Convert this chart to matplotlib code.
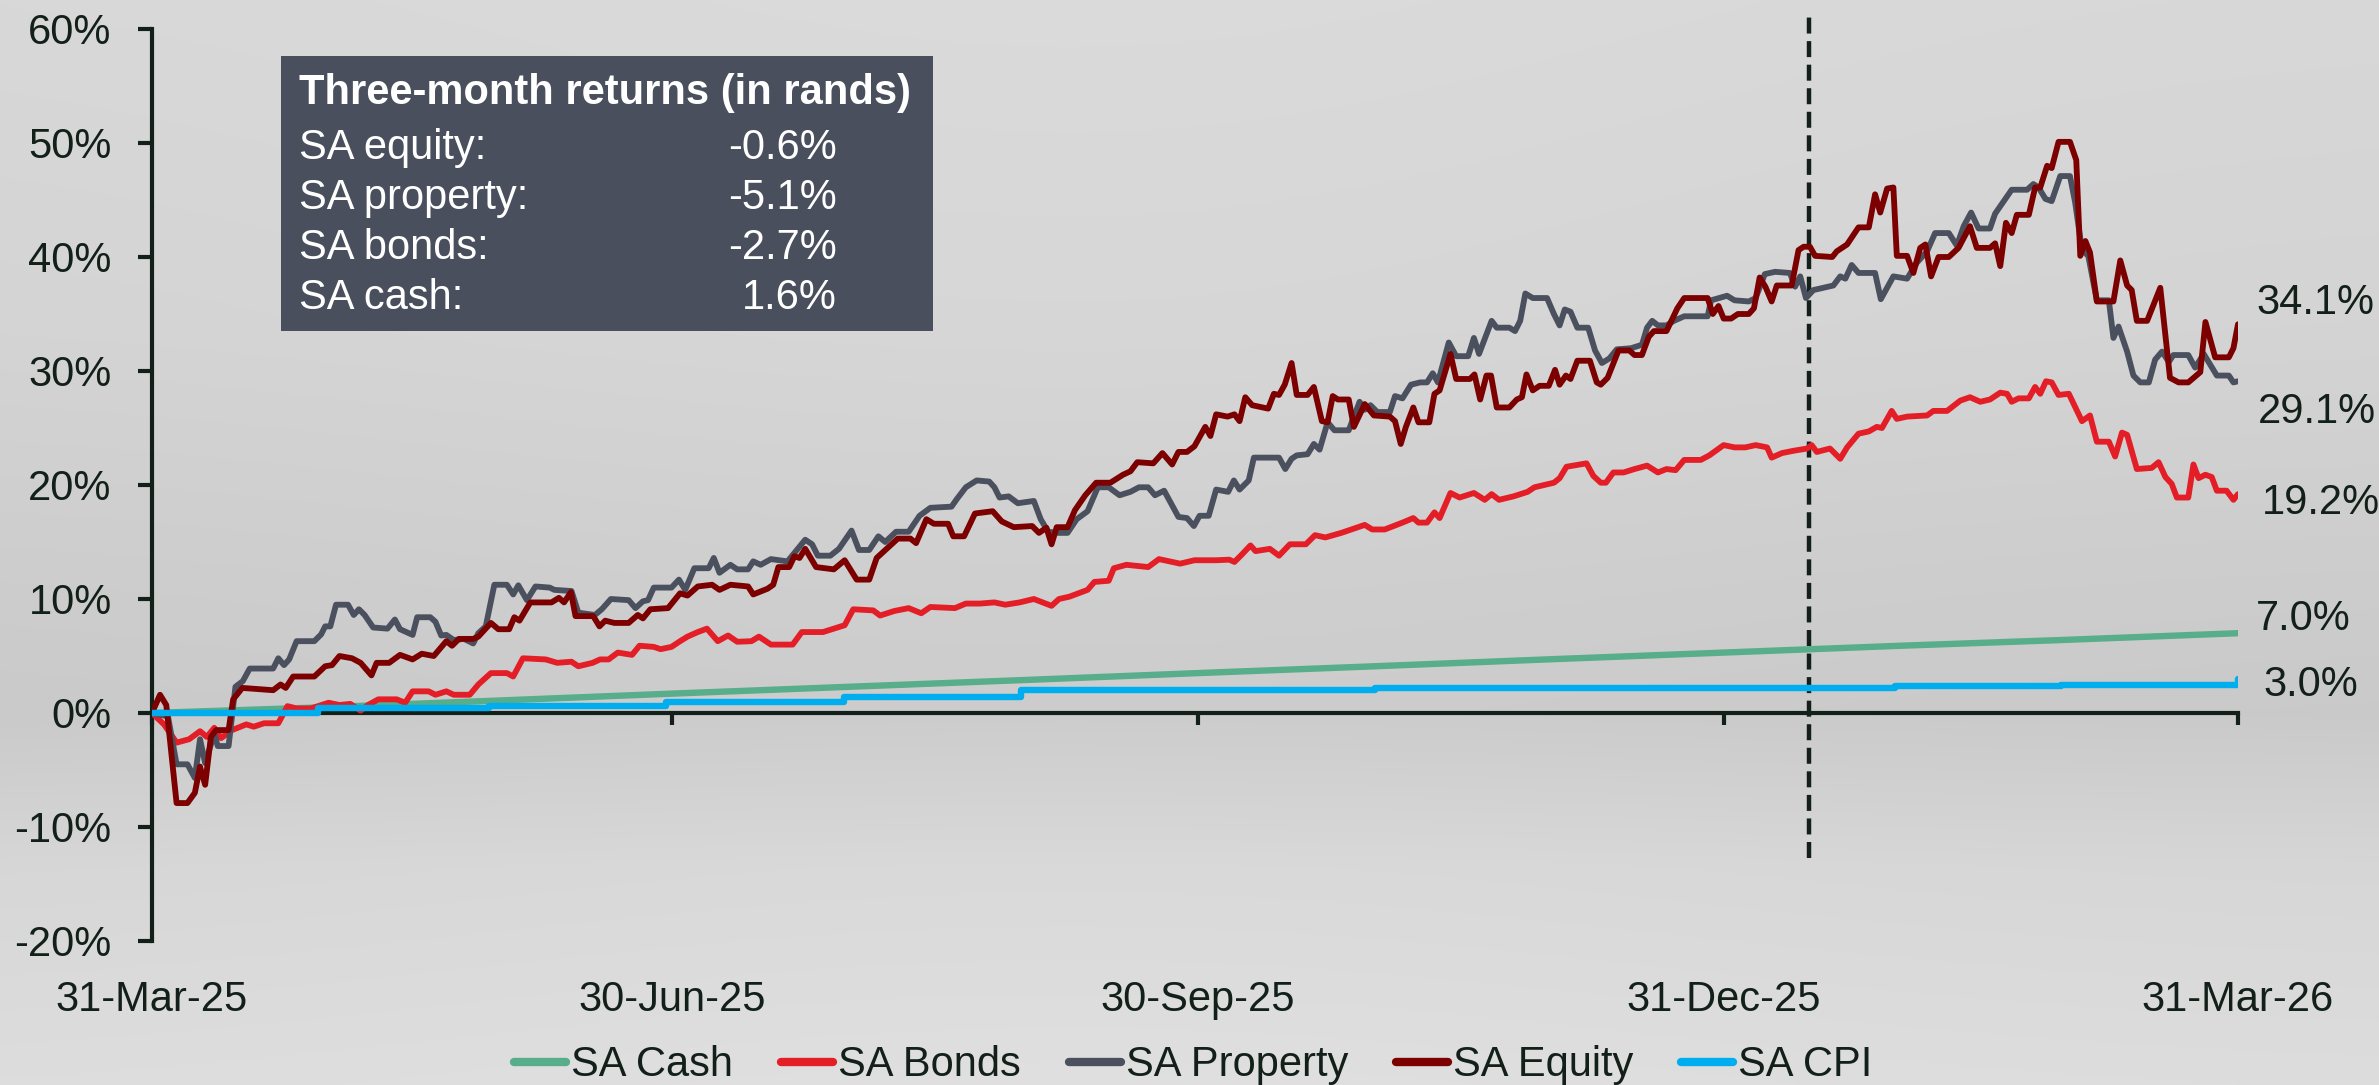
import numpy as np
import pandas as pd
import matplotlib
matplotlib.use("Agg")
import matplotlib.pyplot as plt
from matplotlib.patches import Rectangle

plt.rcParams['font.family'] = ['Liberation Sans', 'DejaVu Sans']

START = pd.Timestamp('2025-03-31')

# ---------------- data (days after 31-Mar-25, cumulative return %) ----------------
eq_days = [0,1.4,2.5,4.3,6.2,7.5,8.4,9.3,10.3,11.2,13.4,14.2,15.8,21.2,22.5,23.4,24.7,28.4,30.3,31.5,32.8,35,36.5,38.4,39.3,41.5,43.4,45.6,47.2,49.3,51.5,52.5,53.7,56.2,57.1,59.3,60.6,62.5,63.4,64.3,66.2,69.9,71.2,72.1,73.3,74.1,77.2,78.3,79.3,80.9,83.4,85,85.9,87.2,90.3,92.4,93.7,95.5,98,99.3,101.2,104.3,105.2,107.7,108.7,109.6,111.5,112.4,113.3,114.3,116.2,119.3,121.2,123.3,125.5,126.8,130.5,132.7,133.7,135.5,136.8,139.3,140.2,142.1,144,147.1,148.7,150.8,154,155.2,156.5,157.4,158.3,160.2,161.5,163.3,165.2,167.7,169.9,171.2,172.4,175.2,176.8,178.5,179.6,181.1,182.4,184.3,185.2,186.2,188.2,189.4,190.3,191.3,192.5,195.3,196.3,197.2,198.2,199.4,200.3,202.2,203.3,204.7,205.7,206.6,207.5,209.4,210.3,212.2,213.8,216.6,217.5,218.5,219.4,220.7,221.6,223.5,224.4,225.3,227.2,228.2,230.6,231.4,232.4,233.5,234.3,235.3,237.5,238.8,239.7,240.5,241.6,242.8,244.4,245.5,246.3,247.4,248.2,249.4,251.6,252.8,253.5,254.7,256.6,258.5,259.4,260.7,261.9,262.8,265,266.9,268.1,272.2,273.1,274.1,275,276.3,277.5,279.4,280.3,281.3,282.3,283.4,284.3,286.9,288.1,289,290.1,291,294,294.8,296.6,298.6,300.4,301.5,302.4,303.6,304.7,305.3,307.1,308.2,309.4,310.3,311.3,312.6,314.4,316.1,318.1,319.3,321.6,322.5,323.4,324.4,325.4,326.3,328.4,329.5,330.4,331.6,332.4,333.6,335.6,336.7,337.4,338.3,339.1,340.3,343.2,344.4,345.6,346.4,347.3,349.1,351.4,353.1,354.6,356.3,358.4,359.3,361,363.4,364.2,365]
eq_vals = [0,1.6,0.7,-7.9,-7.9,-7.0,-4.7,-6.3,-2.1,-1.5,-1.5,1.2,2.2,2.0,2.5,2.2,3.2,3.2,4.1,4.2,5.0,4.8,4.4,3.3,4.4,4.4,5.1,4.7,5.2,5.0,6.3,5.9,6.5,6.5,6.7,7.9,7.35,7.35,8.4,8.1,9.7,9.7,10.1,9.7,10.6,8.5,8.5,7.6,8.1,7.9,7.9,8.6,8.3,9.1,9.2,10.5,10.3,11.1,11.25,10.8,11.25,11.1,10.4,10.9,11.25,12.8,12.8,13.75,13.6,14.4,12.8,12.6,13.4,11.7,11.7,13.6,15.3,15.3,14.9,17.0,16.6,16.6,15.5,15.5,17.5,17.7,16.8,16.3,16.4,15.8,16.25,14.8,16.3,16.3,17.8,19.1,20.2,20.2,20.9,21.2,22.0,21.9,22.8,21.8,22.9,22.9,23.4,25.1,24.3,26.2,26.0,26.2,25.6,27.7,27.0,26.7,28.0,27.9,28.8,30.7,27.9,27.9,28.6,25.6,25.5,27.8,27.5,27.5,25.1,27.1,26.1,26.0,25.6,23.6,25.1,26.8,25.5,25.5,28.0,28.3,31.5,29.3,29.3,29.7,27.5,29.6,29.6,26.8,26.8,27.5,27.7,29.7,28.3,28.7,28.7,30.1,28.8,29.6,29.3,30.9,30.9,29.0,28.8,29.4,31.8,31.8,31.4,31.4,33.0,33.5,33.5,35.5,36.4,36.4,35.0,35.7,34.6,34.6,35.0,35.0,35.5,38.2,37.4,36.1,37.5,37.5,40.6,40.9,40.9,40.1,40.0,40.5,41.1,42.6,42.6,45.5,43.9,46.0,46.1,40.1,40.1,38.6,40.8,41.1,38.3,40.0,40.0,40.8,42.7,40.8,40.8,41.2,39.2,43.0,42.1,43.7,43.7,46.1,46.1,48.0,47.8,50.1,50.1,48.5,40.1,41.4,40.4,36.1,36.1,39.7,37.5,37.1,34.4,34.4,37.3,29.4,29.0,29.0,29.9,34.3,31.2,31.2,32.0,34.1]

pr_days = [0,2.8,4.3,6.2,7.5,8.4,9.3,10.9,11.5,13.4,14.6,15.9,17.1,21.2,22.1,23.1,24.0,25.3,28.4,29.6,30.3,31.2,32.2,34.3,35.3,36.2,37.2,38.7,41.2,42.5,43.4,45.6,46.4,48.7,49.6,50.6,51.5,52.8,54.6,56.2,57.1,58.4,59.9,62.1,63.2,64.1,65.6,67.1,69.6,70.4,73.4,74.6,77.5,78.7,80.3,83.4,84.6,85.9,86.8,87.8,90.9,92.2,93.3,94.9,97.4,98.3,99.3,101.2,102.4,104.3,105.2,106.5,108.3,111.2,114.3,115.5,116.5,118.7,120.2,122.4,123.7,125.5,127.1,128.3,130.2,132.4,134.3,136.2,139.9,140.8,142.4,144.3,146.5,147.4,148.3,149.9,151.5,154.3,155.5,156.8,158.7,160.2,161.8,163.7,165.5,167.4,169.3,171.2,172.7,174.3,175.5,177.1,179.6,181.1,182.3,183.3,184.9,186.2,188.3,189.3,190.3,191.9,192.8,197.2,198.3,199.4,200.3,202.2,203.3,204.3,205.7,206.9,209.4,211.3,212.2,213.2,214.4,216.6,217.5,218.8,220.3,221.9,223.1,224.1,225,226.9,228.2,230.3,231.3,232.2,234.4,235.3,237.5,238.5,239.4,240.3,241.6,244.1,245.3,246.3,247.2,248.2,249.4,251.3,252.5,253.7,255,256.3,258.8,260.7,261.6,262.5,263.5,265,266.3,268.1,272.2,272.8,275.6,276.9,279.4,280.6,282.2,284,286.6,287.5,288.4,289.4,290.7,294.2,295.4,296.3,297.4,298.6,301.5,302.5,304.7,307.1,308.8,310.6,312,314.4,315.8,317,318.3,319.6,321.6,322.5,325.4,328.1,329.2,330.1,331.3,332.4,333.9,335.6,336.5,337.7,338.8,340.3,342.4,343.2,344.1,345.6,346.7,347.9,349.4,350.5,351.7,352.9,353.7,356.3,357.5,359,361.3,363.4,364.2,365]
pr_vals = [0,-0.3,-4.5,-4.5,-5.7,-2.3,-4.4,-1.8,-2.9,-2.9,2.3,2.8,3.9,3.9,4.8,4.2,4.7,6.3,6.3,6.9,7.6,7.6,9.5,9.5,8.6,9.1,8.6,7.5,7.4,8.2,7.35,6.85,8.4,8.4,8.0,6.8,6.85,6.4,6.5,6.1,7.0,7.6,11.25,11.25,10.4,11.2,9.9,11.1,11.0,10.8,10.7,8.8,8.6,9.1,10.0,9.9,9.2,9.8,9.9,11.0,11.0,11.7,10.8,12.7,12.7,13.6,12.3,13.0,12.6,12.6,13.3,13.0,13.5,13.3,15.2,14.8,13.8,13.8,14.4,16.0,14.3,14.3,15.5,15.0,15.9,15.9,17.3,18.0,18.1,18.75,19.8,20.4,20.3,19.8,18.9,19.0,18.4,18.6,17.0,15.9,15.8,15.8,17.0,17.7,19.8,19.8,19.1,19.4,19.8,19.8,19.1,19.5,17.2,17.1,16.4,17.3,17.3,19.6,19.4,20.4,19.6,20.4,22.4,22.4,21.4,22.3,22.6,22.7,23.6,23.1,25.5,24.8,24.8,27.3,26.6,27.0,26.4,26.4,27.8,27.6,28.8,29.0,29.0,29.8,29.0,32.5,31.3,31.3,32.9,31.5,34.4,33.8,33.8,33.5,34.4,36.8,36.4,36.4,35.0,34.0,35.4,35.2,33.8,33.8,31.8,30.7,31.1,31.9,32.0,32.3,33.8,34.4,34.0,34.0,34.4,34.8,34.8,36.2,36.6,36.2,36.1,36.4,38.5,38.7,38.6,37.4,38.3,36.4,37.1,37.5,38.3,38.1,39.3,38.6,38.6,36.3,38.3,38.1,39.5,40.5,42.1,42.1,41.0,42.7,43.9,42.5,42.5,43.8,45.9,45.9,46.4,46.1,45.1,44.9,47.1,47.1,44.8,40.6,40.1,36.2,36.2,32.9,33.9,31.7,29.6,29.0,29.0,31.0,31.7,30.8,31.4,31.4,30.3,31.5,29.6,29.6,29.0,29.1]

bd_days = [0,2.1,4.3,6.5,8.4,9.6,10.9,12.1,14.0,16.5,17.8,19.6,22.1,23.7,25.3,27.8,30.9,32.8,34.7,36.5,37.8,39.6,42.8,44.3,45.6,48.4,49.6,51.5,52.8,55.6,57.1,59.3,62.1,63.2,64.9,68.9,70.9,73.4,74.6,77.1,78.4,79.9,81.5,84,85.3,87.8,89,90.9,92.4,93.7,95.5,97.1,99,100.8,102.4,104.9,106.2,108.3,112.1,113.7,117.4,121.2,122.7,126.2,127.4,129.9,132.4,134.6,136.2,140.5,142.4,144.9,147.4,149.3,151.8,154.3,157.4,158.7,160.5,163.7,164.9,167.4,168.3,170.5,174.3,176.2,179.9,182.4,186.2,188.5,189.4,190.6,192.2,193.1,195.6,197.2,199.1,201.9,203.5,205.3,208.1,212.2,213.5,215.7,218.8,220.7,221.6,223.1,224.4,225.3,227.2,228.8,231.3,233.2,234.4,235.7,238.2,240.7,241.9,245.3,246.3,247.5,251,252.2,253.5,254.4,255.7,257.5,259.4,261.6,263.5,265,266.6,268.1,271,272.5,275,276.9,278.8,280.6,282.6,283.4,285.2,287.2,289.6,290.4,291.3,293.6,295.4,296.6,298.6,300.4,301.8,302.7,304.4,305.3,307.1,310.6,311.7,314.1,316.4,318.1,319.9,321.6,323.4,324.6,325.4,326.6,328.4,329.5,330.4,331.4,332.4,333.6,335.4,337.7,339.1,340.3,342.4,343.5,344.7,345.6,347.3,349.9,351.1,352.3,353.4,354.3,356.3,357.2,358.1,359.3,360.4,361.3,363,364.2,365]
bd_vals = [0,-1.0,-2.6,-2.3,-1.6,-2.1,-1.3,-2.2,-1.5,-1.0,-1.2,-0.9,-0.9,0.6,0.4,0.4,0.9,0.7,0.8,0.2,0.7,1.2,1.2,0.9,1.9,1.9,1.6,1.9,1.6,1.6,2.5,3.5,3.5,3.2,4.8,4.7,4.4,4.5,4.1,4.4,4.7,4.7,5.3,5.1,5.9,5.8,5.6,5.8,6.3,6.7,7.1,7.4,6.3,6.8,6.25,6.3,6.7,6.0,6.0,7.1,7.1,7.7,9.1,9.0,8.55,8.95,9.2,8.75,9.3,9.2,9.6,9.6,9.7,9.5,9.7,10.0,9.4,10.0,10.2,10.8,11.5,11.6,12.7,13.0,12.8,13.5,13.1,13.4,13.4,13.45,13.25,13.85,14.7,14.2,14.4,13.8,14.8,14.8,15.6,15.4,15.8,16.5,16.1,16.1,16.7,17.1,16.7,16.7,17.6,17.1,19.3,18.9,19.3,18.7,19.2,18.7,19.0,19.4,19.8,20.2,20.6,21.6,21.9,20.8,20.2,20.2,21.1,21.1,21.4,21.7,21.1,21.4,21.3,22.2,22.2,22.6,23.5,23.3,23.3,23.5,23.3,22.4,22.8,23.0,23.2,23.5,22.9,23.2,22.3,23.3,24.5,24.7,25.1,25.0,26.5,25.8,26.0,26.1,26.5,26.5,27.4,27.7,27.3,27.5,28.1,28.0,27.3,27.6,27.6,28.6,28.0,29.1,29.0,27.9,28.0,25.6,26.1,23.8,23.8,22.5,24.6,24.4,21.4,21.5,22.0,20.7,20.1,18.9,18.9,21.8,20.6,20.9,20.7,19.5,19.5,18.7,19.2]

cash_days = [0, 30, 61, 91, 122, 153, 183, 214, 244, 275, 306, 334, 365]
cash_vals = [0.0, 0.5, 1.1, 1.7, 2.3, 2.9, 3.5, 4.1, 4.7, 5.3, 5.9, 6.4, 7.0]

cpi_days = [0, 29, 59, 90, 121, 152, 214, 305, 334, 365]
cpi_vals = [0.0, 0.4, 0.65, 0.93, 1.4, 2.05, 2.2, 2.35, 2.5, 3.0]

series_names = ['SA Cash', 'SA Bonds', 'SA Property', 'SA Equity', 'SA CPI']
series_colors = ['#58ad8b', '#e41e26', '#4b505e', '#7d0000', '#00aeef']
series_widths = [4.6, 4.2, 4.2, 4.2, 4.6]

end_labels = ['34.1%', '29.1%', '19.2%', '7.0%', '3.0%']
end_label_y = [36.0, 26.4, 18.45, 8.26, 2.46]

xtick_dates = ['2025-03-31', '2025-06-30', '2025-09-30', '2025-12-31', '2026-03-31']
xtick_labels = ['31-Mar-25', '30-Jun-25', '30-Sep-25', '31-Dec-25', '31-Mar-26']
yticks = [-20, -10, 0, 10, 20, 30, 40, 50, 60]

marker_date = '2026-01-15'

box_title = 'Three-month returns (in rands)'
box_rows = ['SA equity:', 'SA property:', 'SA bonds:', 'SA cash:']
box_vals = ['-0.6%', '-5.1%', '-2.7%', '1.6%']

TXT = '#13201a'


def to_dates(days):
    return START + pd.to_timedelta(np.asarray(days, dtype=float), unit='D')


W, H = 2379, 1085
fig = plt.figure(figsize=(W / 100, H / 100), dpi=100)

# background gradient
bg = fig.add_axes([0, 0, 1, 1], zorder=-10)
yy = np.linspace(0, 1, 400)[:, None]
xx = np.linspace(0, 1, 400)[None, :]
vert = np.interp(yy, [0, 0.3, 0.55, 0.66, 0.8, 1.0], [0.845, 0.83, 0.80, 0.79, 0.84, 0.865])
horiz = 0.012 * np.exp(-((xx - 0.45) / 0.35) ** 2)
img = np.clip(vert + horiz, 0, 1)
bg.imshow(np.dstack([img, img, img]), aspect='auto', extent=[0, 1, 1, 0])
bg.set_axis_off()

ax = fig.add_axes([152 / W, 1 - 941 / H, (2238 - 152) / W, (941 - 29) / H])
ax.patch.set_alpha(0)

plot_data = [(cash_days, cash_vals), (bd_days, bd_vals), (pr_days, pr_vals),
             (eq_days, eq_vals), (cpi_days, cpi_vals)]
for (d, v), name, col, lw in zip(plot_data, series_names, series_colors, series_widths):
    kw = {}
    if name == 'SA CPI':
        kw['drawstyle'] = 'steps-post'
    ax.plot(to_dates(d), v, color=col, lw=lw, label=name, solid_joinstyle='round',
            solid_capstyle='round', **kw)

ax.set_xlim(pd.Timestamp(xtick_dates[0]), pd.Timestamp(xtick_dates[-1]))
ax.set_ylim(yticks[0], yticks[-1])

# dashed marker line
ax.vlines(pd.Timestamp(marker_date), -12.7, 61.5, colors=TXT, linestyles=(0, (3.6, 1.7)),
          lw=3.2, clip_on=False, zorder=1)

for s in ['top', 'right']:
    ax.spines[s].set_visible(False)
ax.spines['bottom'].set_position(('data', 0))
for s in ['left', 'bottom']:
    ax.spines[s].set_linewidth(3.0)
    ax.spines[s].set_color(TXT)
    ax.spines[s].set_zorder(0.5)

ax.set_yticks(yticks)
ax.set_yticklabels([f'{t:d}%' for t in yticks])
ax.set_xticks(pd.to_datetime(xtick_dates))
ax.set_xticklabels(xtick_labels)
ax.tick_params(axis='y', direction='out', length=10, width=3.0, color=TXT,
               labelsize=30, labelcolor=TXT, pad=19)
ax.tick_params(axis='x', direction='out', length=8.5, width=3.0, color=TXT,
               labelsize=30, labelcolor=TXT, pad=184)

# end labels
last = pd.Timestamp(xtick_dates[-1])
end_offsets = [13, 14, 17, 13, 18]
for lab, yv, off in zip(end_labels, end_label_y, end_offsets):
    ax.annotate(lab, xy=(last, yv), xytext=(off, 0), textcoords='offset points',
                ha='left', va='center', fontsize=30, color=TXT, annotation_clip=False)

# info box
bx0, by0, bx1, by1 = 281, 56, 933, 331
fig.patches.append(Rectangle((bx0 / W, 1 - by1 / H), (bx1 - bx0) / W, (by1 - by0) / H,
                             transform=fig.transFigure, facecolor='#4a4f5d',
                             edgecolor='none', zorder=5))
fig.text(299 / W, 1 - 93 / H, box_title, color='white', fontsize=30, fontweight='bold',
         ha='left', va='center', zorder=6)
row_y = [148, 198, 248, 298]
for r, v, y in zip(box_rows, box_vals, row_y):
    fig.text(299 / W, 1 - y / H, r, color='white', fontsize=30, ha='left', va='center', zorder=6)
    fig.text(837 / W, 1 - y / H, v, color='white', fontsize=30, ha='right', va='center', zorder=6)

# legend
leg = fig.legend(loc='center', bbox_to_anchor=(0.5016, 0.018), ncol=5, frameon=False,
                 fontsize=30, handlelength=1.25, handletextpad=0.12, columnspacing=1.15,
                 borderaxespad=0, borderpad=0)
for t in leg.get_texts():
    t.set_color(TXT)
for h in leg.get_lines():
    h.set_linewidth(6)

fig.savefig('out.png', dpi=100)
